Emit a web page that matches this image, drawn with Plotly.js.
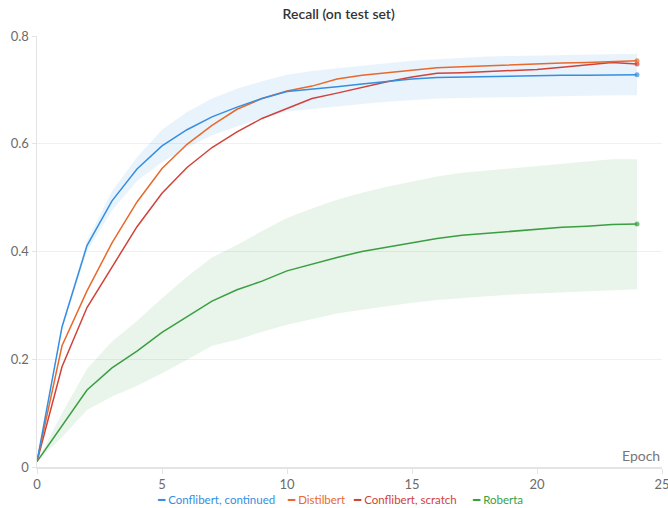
<!DOCTYPE html>
<html>
<head>
<meta charset="utf-8">
<script src="https://cdn.plot.ly/plotly-3.0.1.min.js"></script>
<style>html,body{margin:0;padding:0;background:#fff;}#chart{width:668px;height:508px;}</style>
</head>
<body>
<div id="chart"></div>
<script>
const epochs = [0,1,2,3,4,5,6,7,8,9,10,11,12,13,14,15,16,17,18,19,20,21,22,23,24];

const conflibertContinued = [0.010,0.260,0.411,0.494,0.553,0.596,0.626,0.650,0.668,0.684,0.697,0.701,0.706,0.711,0.716,0.720,0.723,0.724,0.725,0.725,0.726,0.727,0.727,0.728,0.728];
const conflibertContinuedUpper = [0.010,0.265,0.420,0.512,0.575,0.626,0.659,0.684,0.702,0.716,0.728,0.735,0.740,0.745,0.750,0.754,0.757,0.760,0.762,0.763,0.764,0.765,0.766,0.767,0.767];
const conflibertContinuedLower = [0.010,0.255,0.400,0.476,0.531,0.566,0.593,0.616,0.632,0.648,0.660,0.665,0.670,0.674,0.678,0.681,0.684,0.685,0.686,0.687,0.688,0.689,0.689,0.690,0.690];

const distilbert = [0.010,0.225,0.327,0.416,0.492,0.554,0.599,0.634,0.664,0.684,0.698,0.707,0.720,0.727,0.732,0.737,0.741,0.743,0.745,0.746,0.748,0.750,0.751,0.753,0.754];

const conflibertScratch = [0.010,0.186,0.296,0.372,0.446,0.508,0.556,0.593,0.622,0.647,0.665,0.684,0.694,0.705,0.715,0.724,0.731,0.732,0.734,0.736,0.738,0.742,0.746,0.751,0.748];

const roberta = [0.010,0.077,0.143,0.184,0.215,0.250,0.279,0.308,0.329,0.345,0.364,0.377,0.389,0.400,0.408,0.417,0.424,0.430,0.434,0.438,0.441,0.445,0.447,0.450,0.451];
const robertaUpper = [0.010,0.100,0.182,0.233,0.271,0.313,0.353,0.389,0.412,0.438,0.462,0.480,0.496,0.509,0.520,0.530,0.539,0.546,0.550,0.555,0.559,0.563,0.567,0.571,0.571];
const robertaLower = [0.010,0.055,0.106,0.131,0.151,0.174,0.199,0.225,0.236,0.251,0.264,0.275,0.285,0.292,0.299,0.305,0.310,0.314,0.317,0.320,0.322,0.325,0.327,0.329,0.330];

const seriesNames = ['Conflibert, continued','Distilbert','Conflibert, scratch','Roberta'];
const xTicks = [0,5,10,15,20,25];
const yTicks = [0,0.2,0.4,0.6,0.8];
const yTickText = ['0','0.2','0.4','0.6','0.8'];

const colors = ['#358ee0','#e8692c','#d0423a','#3a9e42'];
const legendX = [0.192, 0.400, 0.506, 0.697];
const FONT = 'Lato, "Source Sans Pro", "Noto Sans", sans-serif';

function band(upper, lower, fill) {
  return [
    {x: epochs, y: lower, mode: 'lines', line: {width: 0}, hoverinfo: 'skip', showlegend: false},
    {x: epochs, y: upper, mode: 'lines', line: {width: 0}, fill: 'tonexty', fillcolor: fill, hoverinfo: 'skip', showlegend: false}
  ];
}
function series(y, i) {
  const sizes = y.map((v, k) => k === y.length - 1 ? 5 : 0);
  return {
    x: epochs, y: y, mode: 'lines+markers', name: seriesNames[i], showlegend: false,
    line: {color: colors[i], width: 1.5},
    marker: {color: colors[i], size: sizes, line: {width: 0}}
  };
}

const data = [
  ...band(conflibertContinuedUpper, conflibertContinuedLower, 'rgba(53,142,224,0.11)'),
  ...band(robertaUpper, robertaLower, 'rgba(58,158,66,0.11)'),
  series(roberta, 3),
  series(conflibertScratch, 2),
  series(distilbert, 1),
  series(conflibertContinued, 0)
];

const legendAnnotations = seriesNames.map((n, i) => ({
  text: '<span style="font-family:DejaVu Sans;font-size:12px">━</span> ' + n,
  xref: 'paper', yref: 'paper', x: legendX[i] - 0.004, y: -0.077, xanchor: 'left', yanchor: 'middle',
  showarrow: false, font: {family: FONT, size: 11.5, color: colors[i]}
}));

const layout = {
  width: 668, height: 508,
  margin: {l: 37, r: 6, t: 36, b: 41, autoexpand: false},
  paper_bgcolor: '#fff', plot_bgcolor: '#fff',
  font: {family: FONT, size: 13, color: '#6b6b6b'},
  title: {text: 'Recall (on test set)', x: 0.507, xref: 'container', y: 0.982, yanchor: 'top',
          font: {family: FONT, size: 14, color: '#333', weight: 600}},
  xaxis: {range: [0, 25], tickvals: xTicks, ticktext: xTicks.map(String), showgrid: false, zeroline: false,
          showline: true, linecolor: '#e4e4e4', linewidth: 1.5, ticks: 'outside', ticklen: 5, tickcolor: '#e4e4e4',
          ticklabeloverflow: 'allow', tickfont: {size: 13, color: '#6b6b6b'}},
  yaxis: {range: [0, 0.8], tickvals: yTicks, ticktext: yTickText, showgrid: true, gridcolor: '#f0f0f0', zeroline: false,
          showline: true, linecolor: '#e4e4e4', linewidth: 1.5, ticks: 'outside', ticklen: 4, tickcolor: '#e4e4e4',
          tickfont: {size: 13, color: '#6b6b6b'}},
  annotations: [{text: 'Epoch', xref: 'paper', yref: 'paper', x: 1, y: 0, xanchor: 'right', yanchor: 'bottom',
                 yshift: 1, showarrow: false, font: {family: FONT, size: 14, color: '#777'}}, ...legendAnnotations],
  showlegend: false
};

Plotly.newPlot('chart', data, layout, {displayModeBar: false, staticPlot: true});
</script>
</body>
</html>
